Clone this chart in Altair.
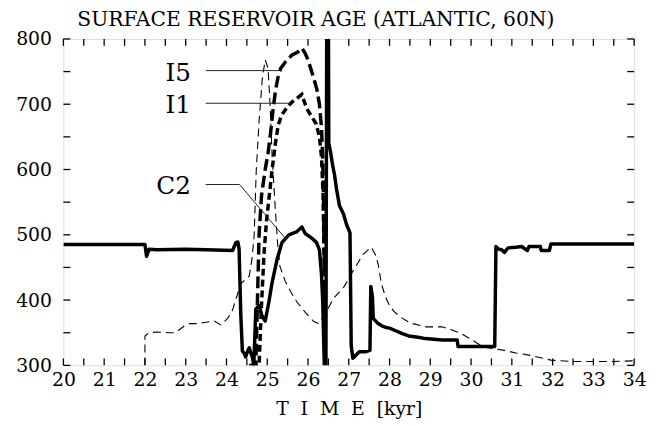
import altair as alt
import pandas as pd

# ---- data ----
c2_x = [20.0, 22.0, 22.04, 22.1, 22.3, 23.0, 23.5, 24.15, 24.23, 24.28, 24.31, 24.35, 24.39, 24.44, 24.47,
        24.52, 24.56, 24.6, 24.63, 24.67, 24.72, 24.8, 24.87, 24.95, 25.04, 25.12, 25.24, 25.36, 25.53,
        25.73, 25.85, 25.93, 26.09, 26.21, 26.28, 26.33, 26.36, 26.4, 26.44, 26.46, 26.5, 26.51, 26.55,
        26.6, 26.65, 26.7, 26.77, 26.87, 26.95, 27.03, 27.06, 27.1, 27.18, 27.26, 27.42, 27.52, 27.54,
        27.58, 27.6, 27.72, 27.8, 27.91, 28.0, 28.15, 28.3, 28.47, 28.7, 28.88, 29.29, 29.66, 29.68, 30.0,
        30.58, 30.61, 30.68, 30.75, 30.82, 30.88, 30.91, 31.1, 31.24, 31.38, 31.42, 31.7, 31.72, 31.78,
        31.92, 31.96, 34.0]
c2_y = [485, 485, 467, 478, 477, 478, 477, 476, 488, 489, 478, 380, 322, 318, 313,
        322, 327, 318, 314, 300, 386, 392, 376, 368, 397, 427, 462, 488, 500,
        505, 512, 502, 495, 488, 477, 440, 400, 300, 300, 850, 850, 640, 628,
        608, 592, 570, 545, 532, 515, 503, 330, 311, 316, 321, 321, 323, 421,
        405, 372, 364, 361, 358, 357, 353, 349, 345, 343, 341, 339, 339, 329, 329,
        329, 482, 478, 477, 473, 478, 480, 481, 482, 476, 482, 482, 476, 476,
        476, 486, 486]

i5_x = [24.55, 24.72, 24.76, 24.8, 24.86, 24.95, 25.02, 25.08, 25.14, 25.2, 25.26, 25.33, 25.45, 25.6,
        25.75, 25.85, 25.93, 26.0, 26.08, 26.15, 26.22, 26.28, 26.33, 26.36, 26.38, 26.4, 26.42]
i5_y = [300, 300, 400, 500, 560, 600, 625, 655, 690, 720, 740, 755, 765, 775,
        780, 786, 778, 768, 752, 738, 722, 700, 665, 620, 560, 450, 300]

i1_x = [24.6, 24.8, 24.85, 24.92, 24.98, 25.05, 25.12, 25.2, 25.27, 25.35, 25.45, 25.6, 25.75, 25.85,
        25.93, 26.0, 26.1, 26.2, 26.28, 26.33, 26.37, 26.39, 26.42]
i1_y = [300, 300, 380, 470, 520, 560, 600, 640, 668, 683, 692, 703, 710, 715,
        700, 690, 680, 670, 650, 620, 560, 480, 300]

ref_x = [22.0, 22.0, 22.1, 22.3, 22.6, 22.75, 22.98, 23.1, 23.3, 23.5, 23.7, 23.86, 24.03, 24.15, 24.25,
         24.35, 24.47, 24.56, 24.63, 24.68, 24.73, 24.8, 24.88, 24.95, 25.02, 25.07, 25.12, 25.19, 25.25,
         25.31, 25.44, 25.6, 25.73, 25.95, 26.14, 26.26, 26.35, 26.45, 26.62, 26.89, 27.1, 27.35, 27.55,
         27.65, 27.72, 27.8, 27.9, 27.98, 28.1, 28.27, 28.5, 28.88, 29.29, 29.5, 29.78, 30.0, 30.17, 30.4,
         30.82, 31.1, 31.48, 31.96, 32.5, 33.0, 33.5, 34.0]
ref_y = [300, 345, 350, 351, 350, 350, 361, 364, 364, 366, 368, 362, 372, 385, 405,
         425, 432, 437, 465, 500, 598, 674, 740, 768, 755, 700, 620, 547, 490,
         452, 429, 410, 397, 380, 367, 364, 372, 382, 402, 421, 444, 470, 481,
         470, 455, 425, 405, 394, 383, 374, 365, 359, 359, 355, 348, 340, 333, 327,
         323, 319, 315, 308, 306, 306, 306, 307]

x_labels = list(range(20, 35))
y_labels = [300, 400, 500, 600, 700, 800]
x_ticks = [20 + 0.5 * i for i in range(29)]
y_ticks = [300 + 50 * i for i in range(11)]

label_names = ["I5", "I1", "C2"]
label_x = [23.13, 23.13, 23.13]
label_y = [747, 698.5, 574]

leader_id = ["I5", "I5", "I1", "I1", "C2", "C2", "C2"]
leader_x = [23.49, 25.29, 23.49, 25.56, 23.49, 24.32, 25.48]
leader_y = [751.5, 751.5, 701.5, 701.5, 577, 577, 492]
leader_order = [0, 1, 0, 1, 0, 1, 2]

FONT = "DejaVu Serif"
W, H = 577, 330
NB = "\u00a0"

xs = alt.Scale(domain=[20, 34], nice=False, zero=False)
ys = alt.Scale(domain=[300, 800], nice=False, zero=False)


def series(xv, yv):
    return pd.DataFrame({"x": xv, "y": yv, "o": list(range(len(xv)))})


xax = alt.Axis(values=x_labels, grid=False, ticks=False, domain=False, labelFont=FONT,
               labelFontSize=19, labelColor="black", labelPadding=5,
               title=f"T{NB} I{NB} M{NB} E{NB} [kyr]",
               titleFont=FONT, titleFontSize=19, titleFontWeight="normal", titleColor="black",
               titlePadding=11, labelFlush=False)
yax = alt.Axis(values=y_labels, grid=False, ticks=False, domain=False, labelFont=FONT,
               labelFontSize=19, labelColor="black", labelPadding=12, title=None)

base_ref = alt.Chart(series(ref_x, ref_y)).mark_line(
    color="black", strokeWidth=1.1, strokeDash=[8, 5], clip=True).encode(
    x=alt.X("x:Q", scale=xs, axis=xax),
    y=alt.Y("y:Q", scale=ys, axis=yax),
    order="o:Q")

c2 = alt.Chart(series(c2_x, c2_y)).mark_line(
    color="black", strokeWidth=3.5, clip=True, strokeJoin="round").encode(
    x=alt.X("x:Q", scale=xs), y=alt.Y("y:Q", scale=ys), order="o:Q")

i5 = alt.Chart(series(i5_x, i5_y)).mark_line(
    color="black", strokeWidth=3.5, strokeDash=[12, 5], clip=True).encode(
    x=alt.X("x:Q", scale=xs), y=alt.Y("y:Q", scale=ys), order="o:Q")

i1 = alt.Chart(series(i1_x, i1_y)).mark_line(
    color="black", strokeWidth=3.5, strokeDash=[7, 4], clip=True).encode(
    x=alt.X("x:Q", scale=xs), y=alt.Y("y:Q", scale=ys), order="o:Q")

leaders = alt.Chart(pd.DataFrame({"id": leader_id, "x": leader_x, "y": leader_y,
                                  "o": leader_order})).mark_line(
    color="#222222", strokeWidth=1.0).encode(
    x=alt.X("x:Q", scale=xs), y=alt.Y("y:Q", scale=ys), detail="id:N", order="o:Q")

labels = alt.Chart(pd.DataFrame({"t": label_names, "x": label_x, "y": label_y})).mark_text(
    font=FONT, fontSize=25, align="right", baseline="middle", color="black").encode(
    x=alt.X("x:Q", scale=xs), y=alt.Y("y:Q", scale=ys), text="t:N")

xt = pd.DataFrame({"x": x_ticks})
yt = pd.DataFrame({"y": y_ticks})
tick_bottom = alt.Chart(xt).mark_rule(color="black", strokeWidth=1.3).encode(
    x=alt.X("x:Q", scale=xs), y=alt.value(H), y2=alt.value(H - 7))
tick_top = alt.Chart(xt).mark_rule(color="black", strokeWidth=1.3).encode(
    x=alt.X("x:Q", scale=xs), y=alt.value(0), y2=alt.value(7))
tick_left = alt.Chart(yt).mark_rule(color="black", strokeWidth=1.3).encode(
    y=alt.Y("y:Q", scale=ys), x=alt.value(0), x2=alt.value(7))
tick_right = alt.Chart(yt).mark_rule(color="black", strokeWidth=1.3).encode(
    y=alt.Y("y:Q", scale=ys), x=alt.value(W), x2=alt.value(W - 7))

chart = alt.layer(base_ref, i1, i5, c2, leaders, labels,
                  tick_bottom, tick_top, tick_left, tick_right).properties(
    width=W, height=H,
    autosize=alt.AutoSizeParams(type="none"),
    padding={"left": 56, "top": 29, "right": 14, "bottom": 57},
    title=alt.TitleParams("SURFACE RESERVOIR AGE (ATLANTIC, 60N)", font=FONT, fontSize=20.5,
                          fontWeight="normal", color="black", anchor="start", frame="group",
                          dx=14, offset=0),
).configure_view(stroke="black", strokeWidth=1.5).configure(background="white")

chart.save("out.html", embed_options={"renderer": "svg", "actions": False})
